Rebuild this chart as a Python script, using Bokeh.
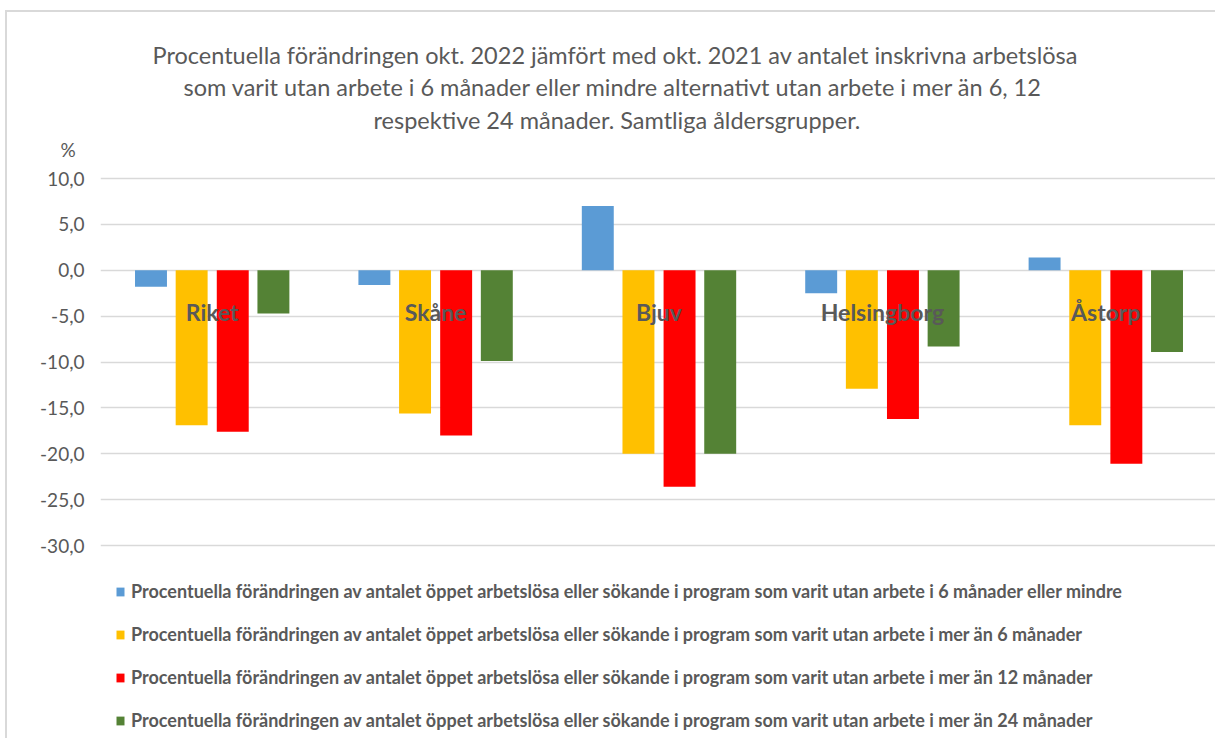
from bokeh.plotting import figure
from bokeh.models import (ColumnDataSource, FactorRange, Range1d, Legend, LegendItem,
                          Title, CustomJSTickFormatter, FixedTicker)
from bokeh.transform import dodge
from bokeh.core.properties import value
from bokeh.embed import file_html
from bokeh.resources import INLINE

categories = ["Riket", "Skåne", "Bjuv", "Helsingborg", "Åstorp"]
s_6_or_less = [-1.8, -1.6, 7.0, -2.5, 1.4]
s_more_6 = [-16.9, -15.6, -20.0, -12.9, -16.9]
s_more_12 = [-17.6, -18.0, -23.6, -16.2, -21.1]
s_more_24 = [-4.7, -9.9, -20.0, -8.3, -8.9]
y_ticks = [10, 5, 0, -5, -10, -15, -20, -25, -30]

series_names = [
    "Procentuella förändringen av antalet öppet arbetslösa eller sökande i program som varit utan arbete i 6 månader eller mindre",
    "Procentuella förändringen av antalet öppet arbetslösa eller sökande i program som varit utan arbete i mer än 6 månader",
    "Procentuella förändringen av antalet öppet arbetslösa eller sökande i program som varit utan arbete i mer än 12 månader",
    "Procentuella förändringen av antalet öppet arbetslösa eller sökande i program som varit utan arbete i mer än 24 månader",
]
title_lines = [
    "Procentuella förändringen okt. 2022 jämfört med okt. 2021 av antalet inskrivna arbetslösa",
    "som varit utan arbete i 6 månader eller mindre alternativt utan arbete i mer än 6, 12",
    "respektive 24 månader. Samtliga åldersgrupper.",
]
title_offsets = [52, 83, 273]
title_standoffs = [-27, 31, -25]
colors = ["#5B9BD5", "#FFC000", "#FF0000", "#548235"]

source = ColumnDataSource(dict(cat=categories, s1=s_6_or_less, s2=s_more_6,
                               s3=s_more_12, s4=s_more_24))

FONT = "Lato"
GRAY = "#595959"

# chart area starts at (7, 12) with a light border on its left and top edge
p = figure(x_range=FactorRange(*categories), y_range=Range1d(-51.25, 10.22),
           width=1210, height=728, output_backend="svg", toolbar_location=None,
           min_border_left=93, min_border_right=0, min_border_top=164,
           min_border_bottom=0)
p.styles = {"margin-left": "5px", "margin-top": "10px",
            "border-left": "2px solid #D9D9D9", "border-top": "2px solid #D9D9D9"}
p.outline_line_color = None
p.xaxis.visible = False
p.xgrid.grid_line_color = None
p.ygrid.grid_line_color = "#D9D9D9"
p.ygrid.grid_line_width = 1.5
p.yaxis.ticker = FixedTicker(ticks=y_ticks)
p.yaxis.formatter = CustomJSTickFormatter(code="return tick.toFixed(1).replace('.', ',');")
p.yaxis.axis_line_color = None
p.yaxis.major_tick_line_color = None
p.yaxis.minor_tick_line_color = None
p.yaxis.major_label_text_font = FONT
p.yaxis.major_label_text_font_size = "19px"
p.yaxis.major_label_text_color = GRAY
p.yaxis.major_label_standoff = 10

offsets = [-0.274, -0.092, 0.092, 0.274]
renderers = []
for col, off, c in zip(["s1", "s2", "s3", "s4"], offsets, colors):
    r = p.vbar(x=dodge("cat", off, range=p.x_range), top=col, bottom=0, width=0.143,
               source=source, fill_color=c, line_color=None)
    renderers.append(r)

# category labels inside plot
p.text(x="cat", y=-4.5, text="cat", source=source, text_align="center",
       text_baseline="middle", text_font=value(FONT), text_font_size="23px",
       text_font_style="bold", text_color=GRAY)

# "%" unit label and three title lines (closest to the frame first)
p.add_layout(Title(text="%", align="left", offset=-40, vertical_align="middle",
                   text_font=FONT, text_font_size="19px", text_font_style="normal",
                   text_color=GRAY, standoff=29.5), "above")
for line, off, so in reversed(list(zip(title_lines, title_offsets, title_standoffs))):
    p.add_layout(Title(text=line, align="left", offset=off, text_font=FONT,
                       text_font_size="23.5px", text_font_style="normal",
                       text_color=GRAY, standoff=so), "above")

legend = Legend(items=[LegendItem(label=n, renderers=[r]) for n, r in zip(series_names, renderers)],
                location=(15, 9), orientation="vertical", padding=0, margin=0,
                spacing=21, label_height=20, glyph_width=10, glyph_height=11,
                label_text_font=FONT, label_text_font_size="18px",
                label_text_font_style="bold", label_text_color=GRAY,
                border_line_color=None, background_fill_alpha=0, label_standoff=6)
p.add_layout(legend, "center")

open("out.html", "w").write(file_html(p, INLINE))
